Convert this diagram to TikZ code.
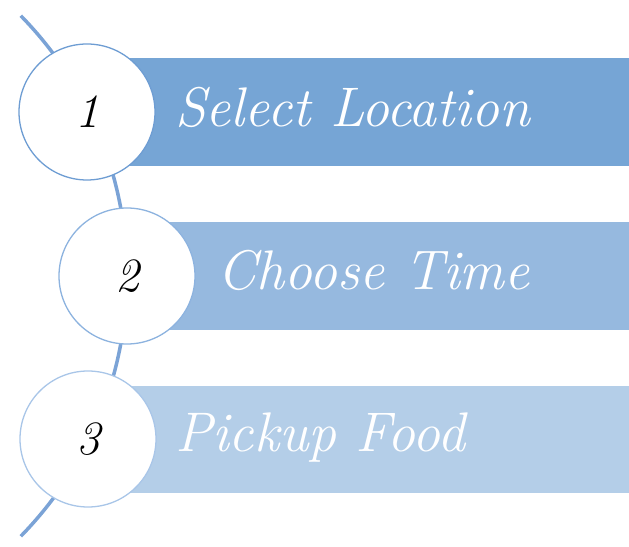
\documentclass[tikz,border=0pt]{standalone}
\definecolor{barA}{HTML}{76A5D5}
\definecolor{barB}{HTML}{96B9DF}
\definecolor{barC}{HTML}{B4CEE8}
\definecolor{ringA}{HTML}{6E9DD3}
\definecolor{ringB}{HTML}{8DB3DF}
\definecolor{ringC}{HTML}{A9C6E8}
\definecolor{arcc}{HTML}{7BA3D6}
\begin{document}
\begin{tikzpicture}[x=1bp,y=1bp,
  stepbar/.style={draw=none,fill=#1},
  stepcircle/.style={circle,draw=#1,line width=1.3bp,fill=white,minimum size=136bp,inner sep=0pt,
     font=\fontsize{48}{48}\selectfont\itshape,text=black},
  steplabel/.style={anchor=base west,text=white,font=\fontsize{56}{56}\selectfont\itshape,inner sep=0pt}]
\useasboundingbox (0,0) rectangle (629,547);
% arc
\coordinate (arcc0) at (-245,271);
\draw[arcc,line width=3.5bp] ([shift={(-44.4:372)}]arcc0) arc[start angle=-44.4,end angle=44.4,radius=372];
% bars
\fill[stepbar=barA] (87,489) rectangle (629,381);
\fill[stepbar=barB] (127,325) rectangle (629,217);
\fill[stepbar=barC] (88,161) rectangle (629,54);
% circles
\node[stepcircle=ringA] (c1) at (87,435) {1};
\node[stepcircle=ringB] (c2) at (127,271) {2};
\node[stepcircle=ringC] (c3) at (88,108) {3};
% labels
\node[steplabel] (t1) at (175,420) {Select Location};
\node[steplabel] (t2) at (217,257) {Choose Time};
\node[steplabel] (t3) at (175,95) {Pickup Food};
\end{tikzpicture}
\end{document}
